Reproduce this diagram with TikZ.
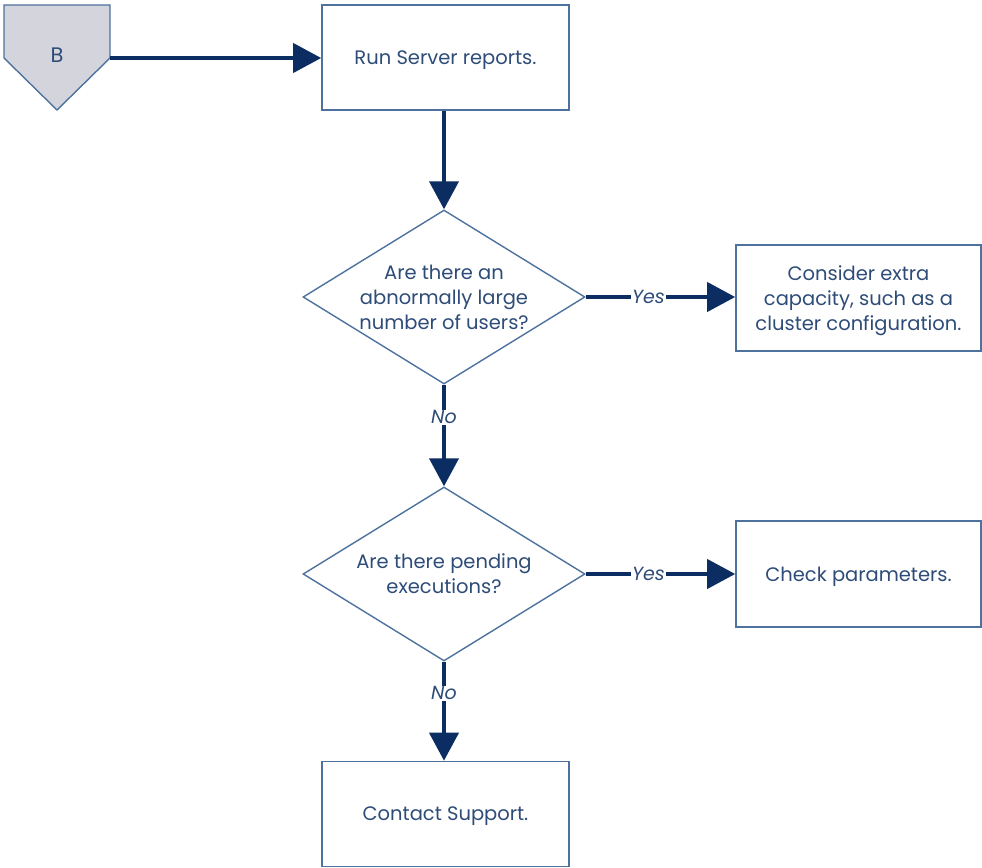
\documentclass[tikz,border=0pt]{standalone}
\usepackage{fontspec}
\setmainfont{Poppins}
\usetikzlibrary{arrows.meta,shapes.geometric}
\definecolor{navy}{HTML}{0B2D62}
\definecolor{edgeblue}{HTML}{4E729E}
\definecolor{textblue}{HTML}{2E4C78}
\definecolor{tabfill}{HTML}{D4D5DC}
\tikzset{
  x=1pt, y=-1pt,
  every node/.style={font=\fontsize{19.5}{25}\selectfont, text=textblue, align=center},
  stepbox/.style={draw=edgeblue, line width=1.6pt, rectangle, fill=white,
    minimum width=247pt, minimum height=105pt, inner sep=0pt},
  sidebox/.style={stepbox, minimum width=245pt, minimum height=106pt},
  question/.style={draw=edgeblue, line width=1.4pt, diamond, fill=white,
    minimum width=282pt, minimum height=174pt, inner sep=0pt},
  asks/.style={label={[align=center]center:#1}},
  says/.style={label={[align=center, yshift=-2.5pt]center:#1}},
  flow/.style={draw=navy, line width=4pt,
    -{Triangle[length=28pt,width=29pt]}},
  answer/.style={font=\itshape\fontsize{19}{22}\selectfont, fill=white,
    inner sep=1pt, text=textblue}
}
\begin{document}
\begin{tikzpicture}
\useasboundingbox (0,0) rectangle (982,867);

% off-page connector tab
\draw[draw=edgeblue, line width=1.4pt, fill=tabfill]
  (4,5) -- (110,5) -- (110,58) -- (57,110) -- (4,58) -- cycle;
\node (B) at (57,55) {\fontsize{21}{24}\selectfont B};
\coordinate (Bout) at (110,58);

% process steps and decisions
\node[stepbox, says={Run Server reports.}] (run) at (445.5,57.5) {};
\node[question, asks={Are there an\\abnormally large\\number of users?}] (users) at (444,297) {};
\node[sidebox, says={Consider extra\\capacity, such as a\\cluster configuration.}] (capacity) at (858.5,298) {};
\node[question, asks={Are there pending\\executions?}] (pending) at (444,574) {};
\node[sidebox, says={Check parameters.}] (params) at (858.5,574) {};
\node[stepbox, says={Contact Support.}] (support) at (445.5,814) {};

% connectors
\draw[flow] (Bout) -- (Bout -| run.west);
\draw[flow] (run.south -| users.north) -- (users.north);
\draw[flow] (users.east) -- node[answer, pos=0.42] {Yes} (users.east -| capacity.west);
\draw[flow] (users.south) -- node[answer, pos=0.32] {No} (pending.north);
\draw[flow] (pending.east) -- node[answer, pos=0.42] {Yes} (pending.east -| params.west);
\draw[flow] (pending.south) -- node[answer, pos=0.32] {No} (support.north -| pending.south);
\end{tikzpicture}
\end{document}
